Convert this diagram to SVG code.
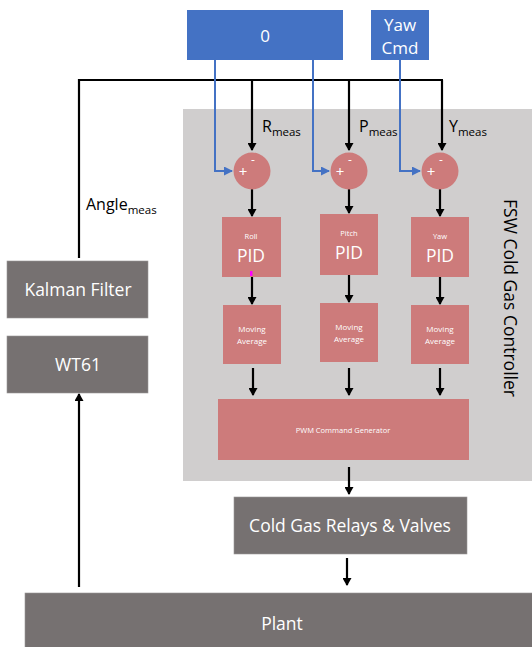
<svg xmlns="http://www.w3.org/2000/svg" width="532" height="647" viewBox="0 0 532 647">
<defs>
<style>
.blue{fill:#4472c4;}
.pink{fill:#cd7b7b;}
.dark{fill:#767171;stroke:#9a9696;stroke-width:0.6;}
.t{font-family:"Open Sans","Liberation Sans",sans-serif;fill:#ffffff;text-anchor:middle;}
.k{font-family:"Open Sans","Liberation Sans",sans-serif;fill:#000000;}
.bl{stroke:#000;stroke-width:2.2;fill:none;}
.bu{stroke:#4472c4;stroke-width:2;fill:none;}
</style>
<marker id="ak" markerWidth="9" markerHeight="9" refX="7" refY="4.5" orient="auto" markerUnits="userSpaceOnUse">
<path d="M0,0 L8,4.5 L0,9 Z" fill="#000"/>
</marker>
<marker id="ab" markerWidth="10" markerHeight="10" refX="8" refY="4.5" orient="auto" markerUnits="userSpaceOnUse">
<path d="M0,0 L9,4.5 L0,9 Z" fill="#4472c4"/>
</marker>
</defs>
<rect width="532" height="647" fill="#ffffff"/>

<g id="controller-bg">
<rect x="183" y="109" width="349" height="372" fill="#d0cece"/>
<text class="k" transform="translate(504,298) rotate(90)" text-anchor="middle" font-size="17.5" fill="#222">FSW Cold Gas Controller</text>
</g>

<g id="zero">
<rect class="blue" x="187" y="10" width="156" height="50"/>
<text class="t" x="265" y="42" font-size="17">0</text>
</g>
<g id="yawcmd">
<rect class="blue" x="371" y="10" width="58" height="50"/>
<text class="t" x="400" y="31" font-size="17">Yaw</text>
<text class="t" x="400" y="54" font-size="17">Cmd</text>
</g>

<g id="connectors">
<path class="bl" d="M79,258 V80 H443"/>
<path class="bl" d="M252,80 V150" marker-end="url(#ak)"/>
<path class="bl" d="M349,80 V150" marker-end="url(#ak)"/>
<path class="bl" d="M442,80 V150" marker-end="url(#ak)"/>
<path class="bu" d="M215,60 V171 H232" marker-end="url(#ab)"/>
<path class="bu" d="M313,60 V171 H329" marker-end="url(#ab)"/>
<path class="bu" d="M400,60 V171 H420" marker-end="url(#ab)"/>
<path class="bl" d="M252,189 V216" marker-end="url(#ak)"/>
<path class="bl" d="M349,189 V213" marker-end="url(#ak)"/>
<path class="bl" d="M440,189 V216" marker-end="url(#ak)"/>
<path class="bl" d="M252,277 V304" marker-end="url(#ak)"/>
<path class="bl" d="M349,275 V302" marker-end="url(#ak)"/>
<path class="bl" d="M440,277 V304" marker-end="url(#ak)"/>
<path class="bl" d="M253,368 V395" marker-end="url(#ak)"/>
<path class="bl" d="M349,368 V395" marker-end="url(#ak)"/>
<path class="bl" d="M440,368 V395" marker-end="url(#ak)"/>
<path class="bl" d="M349,467 V494" marker-end="url(#ak)"/>
<path class="bl" d="M347,558 V585" marker-end="url(#ak)"/>
<path class="bl" d="M79,587 V394" marker-end="url(#ak)"/>
<text class="k" x="262" y="132" font-size="16">R<tspan font-size="11.5" dy="4">meas</tspan></text>
<text class="k" x="359" y="132" font-size="16">P<tspan font-size="11.5" dy="4">meas</tspan></text>
<text class="k" x="449" y="132" font-size="16">Y<tspan font-size="11.5" dy="4">meas</tspan></text>
<text class="k" x="86" y="210" font-size="16">Angle<tspan font-size="11.5" dy="4">meas</tspan></text>
</g>

<g id="sum-roll">
<circle class="pink" cx="252" cy="171" r="18.5"/>
<text class="t" x="243" y="177" font-size="15">+</text>
<text class="t" x="253" y="164" font-size="12">-</text>
</g>
<g id="sum-pitch">
<circle class="pink" cx="349" cy="171" r="18.5"/>
<text class="t" x="340" y="177" font-size="15">+</text>
<text class="t" x="350" y="164" font-size="12">-</text>
</g>
<g id="sum-yaw">
<circle class="pink" cx="440" cy="171" r="18.5"/>
<text class="t" x="431" y="177" font-size="15">+</text>
<text class="t" x="441" y="164" font-size="12">-</text>
</g>

<g id="pid-roll">
<rect class="pink" x="222" y="217" width="59" height="60"/>
<text class="t" x="251" y="239" font-size="7.5">Roll</text>
<text class="t" x="251" y="262" font-size="17.5">PID</text>
<rect x="250" y="271" width="2.5" height="5" fill="#ff00ff"/>
</g>
<g id="pid-pitch">
<rect class="pink" x="320" y="214" width="58" height="61"/>
<text class="t" x="349" y="236" font-size="7.5">Pitch</text>
<text class="t" x="349" y="259" font-size="17.5">PID</text>
</g>
<g id="pid-yaw">
<rect class="pink" x="411" y="217" width="58" height="60"/>
<text class="t" x="440" y="239" font-size="7.5">Yaw</text>
<text class="t" x="440" y="262" font-size="17.5">PID</text>
</g>

<g id="ma-roll">
<rect class="pink" x="223" y="305" width="58" height="59"/>
<text class="t" x="252" y="332" font-size="8">Moving</text>
<text class="t" x="252" y="344" font-size="8">Average</text>
</g>
<g id="ma-pitch">
<rect class="pink" x="320" y="303" width="58" height="59"/>
<text class="t" x="349" y="330" font-size="8">Moving</text>
<text class="t" x="349" y="342" font-size="8">Average</text>
</g>
<g id="ma-yaw">
<rect class="pink" x="411" y="305" width="58" height="59"/>
<text class="t" x="440" y="332" font-size="8">Moving</text>
<text class="t" x="440" y="344" font-size="8">Average</text>
</g>

<g id="pwm">
<rect class="pink" x="218" y="399" width="251" height="61"/>
<text class="t" x="343" y="433" font-size="7.5">PWM Command Generator</text>
</g>

<g id="relays">
<rect class="dark" x="234" y="497" width="233" height="57"/>
<text class="t" x="350" y="532" font-size="17.5">Cold Gas Relays &amp; Valves</text>
</g>

<g id="plant">
<rect class="dark" x="25" y="593" width="510" height="58"/>
<text class="t" x="282" y="630" font-size="17.5">Plant</text>
</g>

<g id="kalman">
<rect class="dark" x="7" y="261" width="141" height="57"/>
<text class="t" x="78" y="296" font-size="17.5">Kalman Filter</text>
</g>

<g id="wt61">
<rect class="dark" x="7" y="336" width="141" height="57"/>
<text class="t" x="78" y="371" font-size="17.5">WT61</text>
</g>
</svg>
